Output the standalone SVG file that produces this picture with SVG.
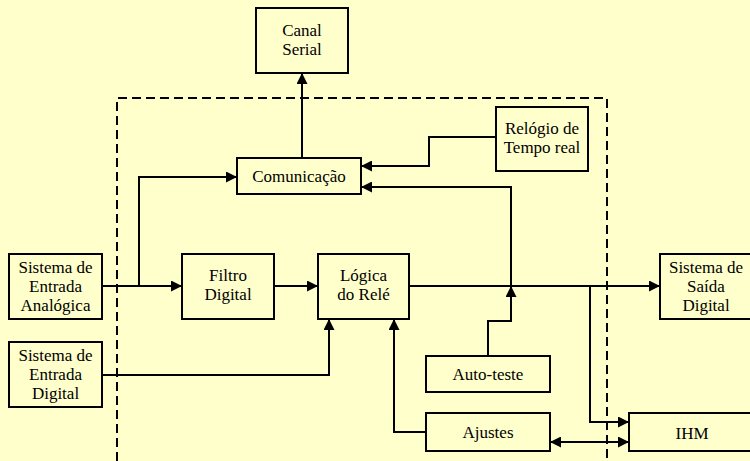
<svg xmlns="http://www.w3.org/2000/svg" width="750" height="461" viewBox="0 0 750 461">
<defs>
<style>
.box{fill:none;stroke:#000;stroke-width:2}
.t{font-family:'Liberation Serif','Times New Roman',Times,'DejaVu Serif','Noto Serif',serif;font-size:17px;fill:#000;text-anchor:middle}
.c{fill:none;stroke:#000;stroke-width:2}
.dash{fill:none;stroke:#000;stroke-width:2;stroke-dasharray:9,5}
</style>
<marker id="ah" markerUnits="userSpaceOnUse" markerWidth="11" markerHeight="11" refX="10" refY="5" orient="auto-start-reverse" viewBox="0 0 10 10">
<path d="M0,0 L10,5 L0,10 z" fill="#000"/>
</marker>
</defs>
<rect x="0" y="0" width="750" height="461" fill="#FFFFCC"/>
<path class="dash" d="M117,461 V98 H607 V461"/>

<g id="connectors">
<path class="c" d="M102,286 H182" marker-end="url(#ah)"/>
<path class="c" d="M139,286 V177 H237" marker-end="url(#ah)"/>
<path class="c" d="M274,286 H318" marker-end="url(#ah)"/>
<path class="c" d="M409,286 H660" marker-end="url(#ah)"/>
<path class="c" d="M302,158 V73" marker-end="url(#ah)"/>
<path class="c" d="M496,137 H429 V166 H361" marker-end="url(#ah)"/>
<path class="c" d="M511,286 V187 H361" marker-end="url(#ah)"/>
<path class="c" d="M488,356 V321 H511 V286" marker-end="url(#ah)"/>
<path class="c" d="M102,375 H329 V319" marker-end="url(#ah)"/>
<path class="c" d="M426,432 H394 V319" marker-end="url(#ah)"/>
<path class="c" d="M590,286 V422 H629" marker-end="url(#ah)"/>
<path class="c" d="M550,442 H629" marker-start="url(#ah)" marker-end="url(#ah)"/>
</g>

<g id="canal-serial">
<rect class="box" x="256" y="8" width="92" height="65"/>
<text class="t" x="302" y="36">Canal</text>
<text class="t" x="302" y="55">Serial</text>
</g>
<g id="comunicacao">
<rect class="box" x="237" y="158" width="124" height="36"/>
<text class="t" x="299" y="182">Comunicação</text>
</g>
<g id="relogio">
<rect class="box" x="496" y="107" width="92" height="64"/>
<text class="t" x="542" y="134">Relógio de</text>
<text class="t" x="542" y="153">Tempo real</text>
</g>
<g id="entrada-analogica">
<rect class="box" x="9" y="254" width="93" height="65"/>
<text class="t" x="55.5" y="273">Sistema de</text>
<text class="t" x="55.5" y="292">Entrada</text>
<text class="t" x="55.5" y="311">Analógica</text>
</g>
<g id="entrada-digital">
<rect class="box" x="9" y="342" width="93" height="65"/>
<text class="t" x="55.5" y="361">Sistema de</text>
<text class="t" x="55.5" y="380">Entrada</text>
<text class="t" x="55.5" y="399">Digital</text>
</g>
<g id="filtro">
<rect class="box" x="182" y="254" width="92" height="65"/>
<text class="t" x="228" y="281">Filtro</text>
<text class="t" x="228" y="300">Digital</text>
</g>
<g id="logica">
<rect class="box" x="318" y="254" width="91" height="65"/>
<text class="t" x="363.5" y="281">Lógica</text>
<text class="t" x="363.5" y="300">do Relé</text>
</g>
<g id="saida-digital">
<rect class="box" x="660" y="254" width="93" height="65"/>
<text class="t" x="706" y="273">Sistema de</text>
<text class="t" x="706" y="292">Saída</text>
<text class="t" x="706" y="311">Digital</text>
</g>
<g id="auto-teste">
<rect class="box" x="426" y="356" width="124" height="36"/>
<text class="t" x="488" y="380">Auto-teste</text>
</g>
<g id="ajustes">
<rect class="box" x="426" y="413" width="124" height="38"/>
<text class="t" x="488" y="438">Ajustes</text>
</g>
<g id="ihm">
<rect class="box" x="629" y="413" width="126" height="38"/>
<text class="t" x="692" y="439">IHM</text>
</g>
</svg>
